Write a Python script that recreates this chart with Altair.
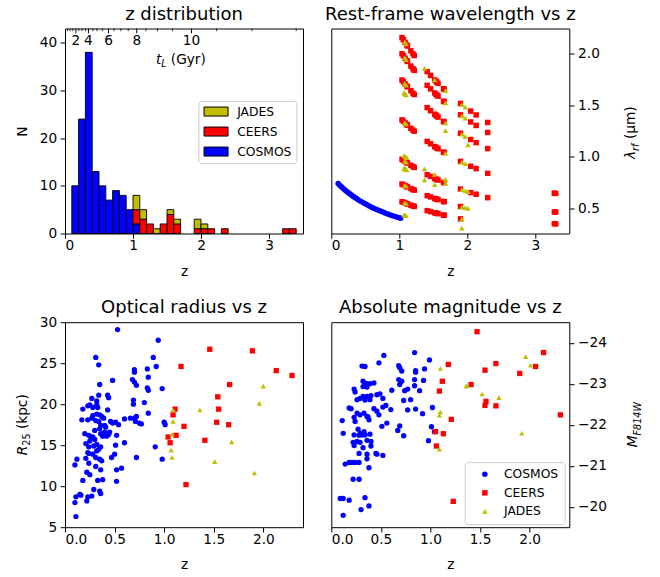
import altair as alt
import pandas as pd

FONT = "DejaVu Sans"
FS = 13.7
SUB = 9.6
W, H = 238, 205
C_COSMOS, C_CEERS, C_JADES = "#0000ff", "#ff0000", "#bfbf00"

# ---------------- Histogram (bin lower edges, width 0.1) ----------------
hist_lo = [0.1, 0.2, 0.3, 0.4, 0.5, 0.6, 0.7, 0.8, 0.9, 1.0, 1.1, 1.2, 1.3, 1.4, 1.5, 1.6,
           1.9, 2.0, 2.1, 2.3, 3.2, 3.3]
hist_cosmos = [10, 24, 38, 13, 10, 7, 9, 8, 5, 2, 0, 0, 0, 0, 0, 0, 0, 0, 0, 0, 0, 0]
hist_ceers = [0, 0, 0, 0, 0, 0, 0, 0, 0, 3, 3, 2, 0, 2, 4, 2, 1, 1, 1, 1, 1, 1]
hist_jades = [0, 0, 0, 0, 0, 0, 0, 0, 0, 3, 2, 0, 1, 0, 1, 1, 2, 1, 0, 0, 0, 0]

# lookback-time axis (Gyr) drawn inside the top of the histogram
tl_major_label = ["2", "4", "6", "8", "10"]
tl_major_z = [0.16, 0.345, 0.64, 1.055, 1.86]
tl_minor_z = [0.037, 0.075, 0.115, 0.203, 0.25, 0.30, 0.41, 0.47, 0.55, 0.72, 0.82,
              0.93, 1.19, 1.36, 1.58, 2.23, 2.75, 3.4]

# ---------------- Rest-frame wavelength vs z ----------------
cosmos2_z = [0.10, 0.12, 0.14, 0.16, 0.18, 0.20, 0.22, 0.24, 0.26, 0.28, 0.30, 0.32, 0.34,
             0.36, 0.38, 0.40, 0.43, 0.46, 0.49, 0.52, 0.55, 0.58, 0.61, 0.64, 0.67, 0.70,
             0.73, 0.76, 0.79, 0.82, 0.85, 0.88, 0.91, 0.94, 0.97, 1.00, 1.02]
cosmos2_lam = [0.740, 0.727, 0.714, 0.702, 0.690, 0.678, 0.667, 0.656, 0.646, 0.636, 0.626,
               0.617, 0.607, 0.599, 0.590, 0.581, 0.569, 0.558, 0.546, 0.536, 0.525, 0.515,
               0.506, 0.496, 0.487, 0.479, 0.471, 0.463, 0.455, 0.447, 0.440, 0.433, 0.426,
               0.420, 0.413, 0.407, 0.403]

ceers2_z = [1.04, 1.06, 1.085, 1.11, 1.12, 1.17, 1.20, 1.22, 1.41, 1.46, 1.52, 1.54, 1.55,
            1.57, 1.65, 1.66, 1.90, 2.05, 2.13, 2.30, 3.28, 3.30]
ceers2_lam = [
    [2.157, 2.000, 1.745, 1.358, 0.975, 0.735, 0.564],
    [2.136, 1.981, 1.728, 1.345, 0.966, 0.728, 0.558],
    [2.110, 1.957, 1.707, 1.329, 0.954, 0.719, 0.552],
    [2.085, 1.934, 1.687, 1.313, 0.943, 0.711, 0.545],
    [2.075, 1.925, 1.679, 1.307, 0.939, 0.708, 0.542],
    [2.028, 1.880, 1.641, 1.276, 0.917, 0.691, 0.530],
    [2.000, 1.855, 1.618, 1.259, 0.905, 0.682, 0.523],
    [1.982, 1.838, 1.604, 1.248, 0.896, 0.676, 0.518],
    [1.826, 1.693, 1.477, 1.149, 0.826, 0.622, 0.477],
    [1.789, 1.659, 1.447, 1.126, 0.809, 0.610, 0.467],
    [1.746, 1.619, 1.413, 1.099, 0.790, 0.595, 0.456],
    [1.732, 1.606, 1.402, 1.091, 0.783, 0.591, 0.453],
    [1.725, 1.600, 1.396, 1.086, 0.780, 0.588, 0.451],
    [1.712, 1.588, 1.385, 1.078, 0.774, 0.584, 0.447],
    [1.660, 1.540, 1.343, 1.045, 0.751, 0.566, 0.434],
    [1.654, 1.534, 1.338, 1.041, 0.748, 0.564, 0.432],
    [1.517, 1.407, 1.228, 0.955, 0.686, 0.517, 0.397],
    [1.443, 1.338, 1.167, 0.908, 0.652],
    [1.406, 1.304, 1.137, 0.885, 0.636],
    [1.333, 1.236, 1.079, 0.839, 0.603],
    [0.647, 0.465, 0.350],
    [0.644, 0.463, 0.349],
]
jades2_z = [1.07, 1.08, 1.09, 1.10, 1.11, 1.37, 1.52, 1.68, 1.92, 1.97, 2.01]
jades2_lam = [
    [1.623, 1.010, 0.889, 0.435],
    [2.115, 1.962, 1.712, 1.615, 1.332, 1.005, 0.957, 0.885, 0.721, 0.553, 0.433],
    [1.608, 0.880],
    [2.095, 1.943, 1.695, 1.600, 1.319, 0.995, 0.948, 0.876, 0.714, 0.548, 0.429],
    [0.991, 0.872],
    [1.857, 0.882, 0.776],
    [1.746, 0.829, 0.730],
    [1.642, 1.522, 1.328, 1.254, 1.034, 0.780, 0.743],
    [1.507, 1.397, 1.219, 0.949, 0.682, 0.514, 0.394, 0.308],
    [1.481, 1.374, 1.199, 0.933, 0.670, 0.505],
    [1.116, 0.661, 0.498],
]

# ---------------- Optical radius vs z ----------------
cosmos3_z = [0.53, 0.94, 0.31, 0.34, 0.89, 0.92, 0.70, 0.70, 0.83, 0.48,
             0.35, 0.68, 0.70, 0.72, 0.84, 0.83, 0.84, 0.98, 0.34, 0.43,
             0.44, 0.27, 0.25, 0.23, 0.32, 0.32, 0.33, 0.18, 0.28, 0.43,
             0.69, 0.69, 0.80, 0.84, 0.17, 0.23, 0.28, 0.32, 0.35, 0.37,
             0.39, 0.27, 0.31, 0.34, 0.36, 0.40, 0.41, 0.45, 0.46, 0.48,
             0.51, 0.54, 0.60, 0.66, 0.70, 0.72, 0.71, 0.75, 0.77, 1.00,
             1.01, 0.35, 0.36, 0.30, 0.20, 0.24, 0.26, 0.28, 0.30, 0.21,
             0.25, 0.24, 0.29, 0.32, 0.34, 0.36, 0.32, 0.38, 0.40, 0.42,
             0.44, 0.52, 0.51, 0.60, 0.72, 0.91, 0.98, 0.23, 0.24, 0.28,
             0.35, 0.37, 0.31, 0.24, 0.22, 0.25, 0.36, 0.33, 0.38, 0.47,
             0.50, 0.52, 0.57, 0.52, 0.18, 0.12, 0.10, 0.16, 0.15, 0.11,
             0.10, 0.23, 0.22, 0.27, 0.29, 0.35, 0.36, 0.11, 0.21, 0.31]
cosmos3_r = [29.1, 27.8, 25.7, 24.8, 25.7, 24.6, 24.2, 23.9, 24.3, 22.9,
             22.4, 23.0, 22.7, 22.3, 23.3, 22.0, 21.7, 21.9, 21.1, 21.1,
             20.8, 20.7, 19.9, 19.8, 20.4, 19.9, 19.6, 19.4, 19.6, 19.3,
             20.5, 20.0, 20.2, 18.9, 18.1, 18.1, 18.6, 18.8, 18.7, 18.5,
             18.3, 18.3, 18.0, 17.9, 17.4, 17.4, 17.2, 16.6, 17.9, 17.7,
             17.8, 17.5, 18.2, 18.3, 18.3, 18.5, 17.9, 17.7, 17.6, 17.8,
             17.5, 17.0, 16.4, 16.8, 16.4, 16.2, 16.0, 16.0, 15.7, 15.2,
             15.5, 14.8, 14.9, 15.1, 14.5, 14.8, 14.3, 16.1, 16.6, 16.1,
             16.3, 16.2, 15.0, 15.3, 13.5, 14.8, 13.3, 14.1, 14.0, 13.9,
             13.3, 13.1, 12.4, 12.8, 11.7, 11.4, 12.0, 10.7, 10.8, 13.5,
             13.9, 12.0, 12.2, 10.6, 10.7, 13.3, 12.6, 8.9, 9.0, 8.7,
             8.0, 8.7, 8.2, 8.8, 9.6, 9.4, 9.1, 6.3, 13.4, 13.5]
ceers3_z = [1.46, 1.89, 1.17, 2.13, 2.29, 1.66, 1.54, 1.55, 1.11, 1.09, 1.53, 1.65, 1.20,
            1.04, 1.12, 1.06, 1.41, 1.22]
ceers3_r = [26.7, 26.5, 24.6, 24.1, 23.5, 22.4, 20.9, 19.4, 19.4, 18.7, 17.8, 17.5, 17.3,
            16.0, 16.2, 15.3, 15.6, 10.2]
jades3_z = [2.00, 1.96, 1.36, 1.09, 1.09, 1.08, 1.68, 1.07, 1.08, 1.51, 1.91]
jades3_r = [22.2, 20.1, 19.3, 19.3, 17.9, 16.3, 15.4, 14.4, 13.5, 13.0, 11.6]

# ---------------- Absolute magnitude vs z ----------------
cosmos4_z = [0.53, 0.48, 0.84, 0.99, 0.94, 0.85, 0.85, 0.84, 0.84, 0.93,
             0.89, 0.68, 0.69, 0.71, 0.68, 0.71, 0.69, 0.61, 0.74, 0.77,
             0.73, 0.80, 0.77, 0.85, 0.92, 1.02, 0.69, 0.67, 0.73, 1.01,
             1.04, 0.98, 0.31, 0.34, 0.32, 0.35, 0.39, 0.32, 0.36, 0.43,
             0.23, 0.24, 0.32, 0.36, 0.40, 0.46, 0.49, 0.26, 0.29, 0.34,
             0.39, 0.52, 0.55, 0.18, 0.20, 0.26, 0.29, 0.33, 0.37, 0.43,
             0.46, 0.48, 0.52, 0.60, 0.11, 0.23, 0.24, 0.36, 0.38, 0.51,
             0.56, 0.27, 0.29, 0.33, 0.12, 0.23, 0.28, 0.31, 0.34, 0.39,
             0.22, 0.26, 0.29, 0.36, 0.40, 0.23, 0.32, 0.40, 0.28, 0.36,
             0.45, 0.46, 0.52, 0.36, 0.38, 0.14, 0.18, 0.21, 0.24, 0.28,
             0.22, 0.28, 0.09, 0.12, 0.18, 0.34, 0.38, 0.30, 0.12]
cosmos4_m = [-23.69, -23.51, -23.76, -23.58, -23.36, -23.32, -23.28, -23.10, -22.95, -23.08,
             -22.83, -23.44, -23.39, -23.31, -23.10, -23.06, -22.98, -22.84, -22.83, -22.87,
             -22.59, -22.61, -22.36, -22.38, -22.27, -22.42, -21.97, -21.86, -21.73, -21.95,
             -21.83, -21.61, -23.43, -23.42, -23.06, -23.01, -23.00, -22.93, -22.92, -23.02,
             -22.87, -22.80, -22.69, -22.69, -22.71, -22.73, -22.75, -22.61, -22.64, -22.60,
             -22.61, -22.64, -22.47, -22.41, -22.39, -22.28, -22.24, -22.28, -22.19, -22.39,
             -22.33, -22.24, -22.43, -22.37, -22.10, -22.18, -22.08, -22.20, -22.12, -21.96,
             -22.04, -21.89, -21.79, -21.83, -21.79, -21.75, -21.74, -21.75, -21.75, -21.77,
             -21.57, -21.59, -21.57, -21.62, -21.59, -21.49, -21.44, -21.48, -21.30, -21.28,
             -21.30, -21.28, -21.25, -21.17, -20.95, -21.04, -21.08, -21.08, -21.08, -21.08,
             -20.67, -20.67, -20.20, -20.20, -20.16, -20.22, -20.02, -19.93, -19.79]
ceers4_z = [1.47, 2.14, 1.66, 1.18, 1.55, 2.06, 1.90, 1.12, 1.41, 1.09, 1.56, 1.55, 1.66,
            1.21, 2.31, 1.05, 1.13, 1.06, 1.23]
ceers4_m = [-24.27, -23.76, -23.49, -23.47, -23.33, -23.42, -23.25, -23.06, -22.98, -22.82,
            -22.57, -22.47, -22.46, -22.13, -22.24, -21.83, -21.78, -21.48, -20.13]
jades4_z = [1.96, 2.01, 1.10, 1.37, 1.36, 1.52, 1.69, 1.10, 1.09, 1.92, 1.09]
jades4_m = [-23.66, -23.45, -23.37, -22.95, -22.94, -22.75, -22.66, -22.31, -22.23, -21.79,
            -21.40]

SURVEYS = ["COSMOS", "CEERS", "JADES"]
COLORS = [C_COSMOS, C_CEERS, C_JADES]
SHAPES = ["circle", "square", "triangle-up"]


def scatter_df(parts):
    rows = []
    for survey, zs, vs in parts:
        for z, v in zip(zs, vs):
            rows.append({"z": z, "v": v, "survey": survey})
    return pd.DataFrame(rows)


def flatten(zs, lams):
    oz, ol = [], []
    for z, ls in zip(zs, lams):
        for l in ls:
            oz.append(z)
            ol.append(l)
    return oz, ol


one = pd.DataFrame({"k": [0]})


def txt(s, x, y, size=FS, italic=False, angle=None, align="left"):
    kw = dict(text=s, font=FONT, fontSize=size, color="black", align=align,
              baseline="alphabetic")
    if italic:
        kw["fontStyle"] = "italic"
    if angle is not None:
        kw["angle"] = angle
    return alt.Chart(one).mark_text(**kw).encode(x=alt.value(x), y=alt.value(y))


def ptitle(t):
    return txt(t, W / 2, -9, size=18, align="center")


# ---------------- Panel 1 ----------------
rows = []
for i, lo in enumerate(hist_lo):
    base = 0
    for s, counts in (("COSMOS", hist_cosmos), ("CEERS", hist_ceers), ("JADES", hist_jades)):
        n = counts[i]
        if n > 0:
            rows.append({"z": lo, "z2": round(lo + 0.1, 2), "y0": base, "y1": base + n,
                         "survey": s})
            base += n
hist_df = pd.DataFrame(rows)

xs1 = alt.Scale(domain=[0, 3.5], nice=False, zero=False)
bars = alt.Chart(hist_df).mark_bar(stroke="black", strokeWidth=0.9, opacity=1).encode(
    x=alt.X("z:Q", scale=xs1, axis=alt.Axis(values=[0, 1, 2, 3], format="d", title="z")),
    x2="z2:Q",
    y=alt.Y("y0:Q", scale=alt.Scale(domain=[0, 43], nice=False, zero=False),
            axis=alt.Axis(values=[0, 10, 20, 30, 40], title="N", titlePadding=9.5)),
    y2="y1:Q",
    color=alt.Color("survey:N",
                    scale=alt.Scale(domain=["JADES", "CEERS", "COSMOS"],
                                    range=[C_JADES, C_CEERS, C_COSMOS]),
                    legend=alt.Legend(orient="none", legendX=133.4, legendY=72.4, title=None,
                                      symbolType="M-2.4,-0.9H2.4V0.9H-2.4Z", symbolSize=100,
                                      symbolStrokeColor="black", symbolStrokeWidth=1,
                                      symbolOpacity=1, symbolOffset=7,
                                      labelFont=FONT, labelFontSize=12.3, labelColor="black",
                                      labelOffset=15, rowPadding=6, padding=4.5,
                                      fillColor="white", strokeColor="#cccccc",
                                      cornerRadius=3)),
)
tl_major = alt.Chart(pd.DataFrame({"z": tl_major_z, "lab": tl_major_label}))
tl_minor = alt.Chart(pd.DataFrame({"z": tl_minor_z}))
maj_ticks = tl_major.mark_rule(color="black", strokeWidth=1).encode(
    x="z:Q", y=alt.value(0), y2=alt.value(4.8))
min_ticks = tl_minor.mark_rule(color="black", strokeWidth=0.8).encode(
    x="z:Q", y=alt.value(0), y2=alt.value(2.7))
maj_labels = tl_major.mark_text(font=FONT, fontSize=FS, color="black", align="center",
                                baseline="alphabetic").encode(
    x="z:Q", y=alt.value(16), text="lab:N")
p1 = alt.layer(bars, maj_ticks, min_ticks, maj_labels,
               txt("t", 91, 35, italic=True),
               txt("L", 96.2, 38.5, size=SUB, italic=True),
               txt("(Gyr)", 105.8, 35),
               ptitle("z distribution")).properties(width=W, height=H)

# ---------------- Panel 2 ----------------
cz, cl = flatten(ceers2_z, ceers2_lam)
jz, jl = flatten(jades2_z, jades2_lam)
df2 = scatter_df([("COSMOS", cosmos2_z, cosmos2_lam), ("CEERS", cz, cl), ("JADES", jz, jl)])
pts2 = alt.Chart(df2).mark_point(filled=True, size=30, opacity=1, strokeWidth=0).encode(
    x=alt.X("z:Q", scale=alt.Scale(domain=[0, 3.5], nice=False, zero=False),
            axis=alt.Axis(values=[0, 1, 2, 3], format="d", title="z")),
    y=alt.Y("v:Q", scale=alt.Scale(domain=[0.255, 2.245], nice=False, zero=False),
            axis=alt.Axis(orient="right", values=[0.5, 1.0, 1.5, 2.0], format=".1f", title=None)),
    color=alt.Color("survey:N", scale=alt.Scale(domain=SURVEYS, range=COLORS), legend=None),
    shape=alt.Shape("survey:N", scale=alt.Scale(domain=SURVEYS, range=SHAPES), legend=None),
)
RX2 = 304
p2 = alt.layer(pts2,
               txt("λ", RX2, 130.5, italic=True, angle=270),
               txt("rf", RX2 + 3.5, 122.4, size=SUB, italic=True, angle=270),
               txt("(μm)", RX2, 110.6, angle=270),
               ptitle("Rest-frame wavelength vs z")).properties(width=W, height=H)

# ---------------- Panel 3 ----------------
df3 = scatter_df([("COSMOS", cosmos3_z, cosmos3_r), ("CEERS", ceers3_z, ceers3_r),
                  ("JADES", jades3_z, jades3_r)])
xs34 = alt.Scale(domain=[0, 2.4], nice=False, zero=False)
pts3 = alt.Chart(df3).mark_point(filled=True, size=28, opacity=1, strokeWidth=0).encode(
    x=alt.X("z:Q", scale=xs34, axis=alt.Axis(values=[0, 0.5, 1.0, 1.5, 2.0], format=".1f",
                                             title="z")),
    y=alt.Y("v:Q", scale=alt.Scale(domain=[5, 30], nice=False, zero=False),
            axis=alt.Axis(values=[5, 10, 15, 20, 25, 30], format="d", title=None)),
    color=alt.Color("survey:N", scale=alt.Scale(domain=SURVEYS, range=COLORS), legend=None),
    shape=alt.Shape("survey:N", scale=alt.Scale(domain=SURVEYS, range=SHAPES), legend=None),
)
LX3 = -38.3
p3 = alt.layer(pts3,
               txt("R", LX3, 133.0, italic=True, angle=270),
               txt("25", LX3 + 3.5, 123.5, size=SUB, angle=270),
               txt("(kpc)", LX3, 106.9, angle=270),
               ptitle("Optical radius vs z")).properties(width=W, height=H)

# ---------------- Panel 4 ----------------
df4 = scatter_df([("COSMOS", cosmos4_z, cosmos4_m), ("CEERS", ceers4_z, ceers4_m),
                  ("JADES", jades4_z, jades4_m)])
leg4 = dict(orient="none", legendX=133.4, legendY=140, title=None, symbolSize=30,
            labelFont=FONT, labelFontSize=12.3, labelColor="black", labelOffset=13,
            symbolOffset=8, rowPadding=5.5, padding=6, fillColor="white",
            strokeColor="#cccccc", cornerRadius=3)
pts4 = alt.Chart(df4).mark_point(filled=True, size=28, opacity=1, strokeWidth=0).encode(
    x=alt.X("z:Q", scale=xs34, axis=alt.Axis(values=[0, 0.5, 1.0, 1.5, 2.0], format=".1f",
                                             title="z")),
    y=alt.Y("v:Q", scale=alt.Scale(domain=[-24.5, -19.5], reverse=True, nice=False, zero=False),
            axis=alt.Axis(orient="right", values=[-24, -23, -22, -21, -20], format="d",
                          title=None)),
    color=alt.Color("survey:N", scale=alt.Scale(domain=SURVEYS, range=COLORS),
                    legend=alt.Legend(**leg4)),
    shape=alt.Shape("survey:N", scale=alt.Scale(domain=SURVEYS, range=SHAPES),
                    legend=alt.Legend(**leg4)),
)
RX4 = 306
p4 = alt.layer(pts4,
               txt("M", RX4, 125.0, italic=True, angle=270),
               txt("F814W", RX4 + 3.5, 113.2, size=SUB, italic=True, angle=270),
               ptitle("Absolute magnitude vs z")).properties(width=W, height=H)

chart = alt.concat(p1, p2, p3, p4, columns=2, spacing={"row": 88.7, "column": 28.3},
                   bounds="flush").resolve_scale(
    color="independent", shape="independent", x="independent", y="independent"
).resolve_legend(color="independent", shape="independent").properties(
    padding={"left": 15, "top": 4.5, "right": 5, "bottom": 5}
).configure(background="white").configure_view(
    stroke="black", strokeWidth=1
).configure_axis(
    labelFont=FONT, labelFontSize=FS, labelColor="black", titleFont=FONT,
    titleFontSize=FS, titleFontWeight="normal", titleColor="black", tickColor="black",
    tickSize=4.8, tickWidth=1, domain=False, grid=False
).configure_axisX(labelPadding=0, titlePadding=12).configure_axisY(labelPadding=3.5)

chart.save("out.html", embed_options={"renderer": "svg", "actions": False})
